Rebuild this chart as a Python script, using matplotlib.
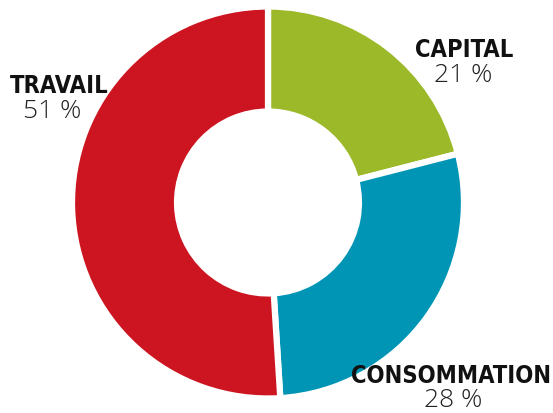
import matplotlib
matplotlib.use("Agg")
import matplotlib.pyplot as plt

labels = ["CAPITAL", "CONSOMMATION", "TRAVAIL"]
values = [21, 28, 51]
colors = ["#9cb92a", "#0095b5", "#cc1520"]
label_pos = [(464, 50), (451, 376), (59, 86)]
num_pos = [(463, 76), (453, 401), (52, 112)]

W, H = 553, 414
fig = plt.figure(figsize=(W / 100, H / 100), dpi=100)
ax = fig.add_axes([0, 0, 1, 1])
cx, cy, R = 268, H - 203.5, 196
ax.pie(values, colors=colors, startangle=90, counterclock=False,
       radius=R, center=(cx, cy),
       wedgeprops=dict(width=R * 0.536, edgecolor="white", linewidth=4.5))
ax.set_xlim(0, W)
ax.set_ylim(0, H)
ax.set_aspect("equal")
ax.axis("off")

for lab, v, (x, y), (nx, ny) in zip(labels, values, label_pos, num_pos):
    ax.text(x, H - y, lab, ha="center", va="center", fontsize=17,
            fontweight="bold", fontstretch="condensed",
            family=["DejaVu Sans"], color="#111111")
    ax.text(nx, H - ny, f"{v} %", ha="center", va="center", fontsize=19,
            fontweight="light", family=["Open Sans", "DejaVu Sans"], color="#222222")

fig.savefig("out.png", dpi=100)
